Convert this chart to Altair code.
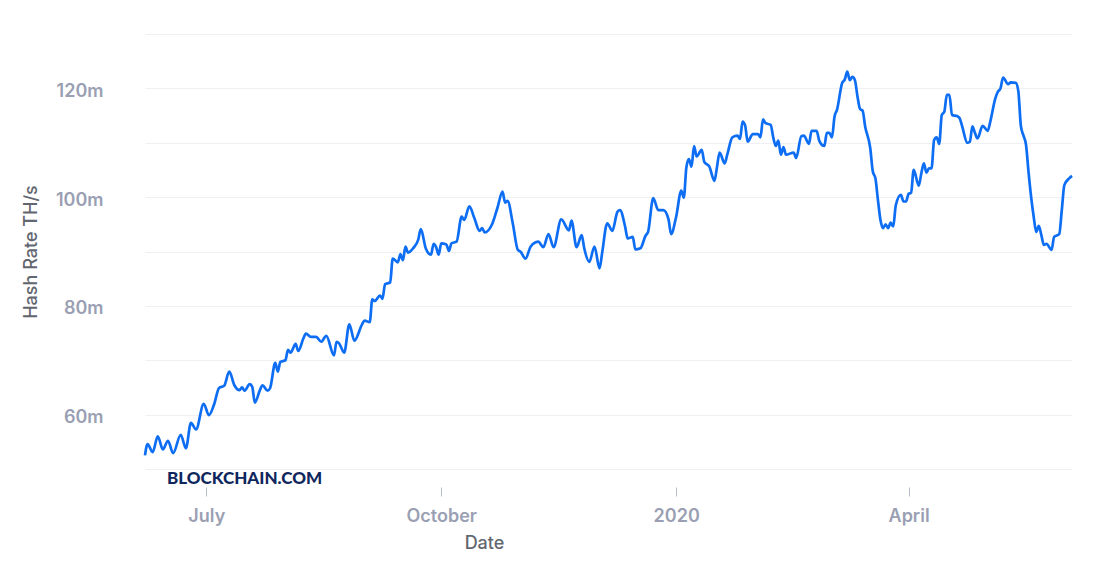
import altair as alt
import pandas as pd

# Hash rate: day offset from 2019-06-07 and value in millions of TH/s
days = [0, 1, 3, 5, 7, 9, 11, 14, 16, 18, 20, 23, 25, 27, 29, 31, 33, 35, 37, 38,
        39, 41, 42, 43, 45, 46, 48, 49, 51, 52, 53, 55, 56, 57, 59, 60, 62, 63, 65, 67,
        69, 71, 74, 75, 76, 78, 80, 82, 85, 86, 88, 89, 90, 92, 93, 94, 96, 97, 99, 100,
        101, 102, 103, 105, 107, 108, 110, 112, 113, 114, 115, 116, 118, 119, 120, 122, 124, 125, 127, 129,
        131, 132, 133, 136, 138, 140, 141, 142, 144, 146, 147, 149, 151, 153, 154, 156, 158, 160, 163, 166,
        167, 169, 171, 172, 174, 176, 178, 179, 181, 183, 185, 186, 188, 189, 191, 192, 194, 196, 197, 199,
        201, 203, 205, 206, 208, 210, 211, 212, 213, 214, 215, 216, 218, 219, 221, 223, 224, 225, 227, 228,
        230, 232, 233, 234, 235, 236, 238, 240, 241, 242, 243, 245, 246, 247, 248, 249, 250, 251, 254, 255,
        257, 258, 260, 261, 263, 264, 266, 267, 268, 269, 270, 271, 273, 274, 275, 276, 277, 278, 279, 280,
        281, 282, 284, 285, 286, 287, 288, 289, 290, 291, 292, 293, 294, 296, 297, 298, 299, 300, 301, 303,
        304, 305, 306, 307, 308, 309, 310, 311, 312, 313, 314, 315, 316, 318, 319, 320, 322, 323, 324, 325,
        326, 328, 330, 331, 333, 334, 335, 336, 338, 339, 341, 342, 343, 344, 345, 346, 347, 348, 349, 350,
        351, 352, 353, 355, 356, 358, 359, 360, 362, 363]
hash_rate = [52.5, 54.6, 53.1, 56.0, 53.6, 55.2, 52.9, 56.3, 53.8, 58.5, 57.3, 62.0, 59.9, 61.8, 64.9, 65.3, 67.9, 65.4, 64.5, 65.0,
             64.4, 65.6, 65.1, 62.2, 64.5, 65.4, 64.4, 64.9, 69.5, 67.9, 69.7, 70.0, 71.9, 71.4, 73.0, 71.7, 74.0, 74.9, 74.3, 74.3,
             73.4, 74.5, 70.9, 73.4, 73.1, 71.4, 76.6, 73.6, 76.6, 77.3, 77.0, 81.2, 80.9, 81.9, 81.3, 84.0, 84.3, 88.7, 88.0, 89.5,
             88.4, 90.9, 89.8, 90.6, 92.2, 94.1, 90.5, 89.4, 91.4, 90.8, 89.4, 91.5, 91.3, 90.1, 91.5, 91.8, 96.4, 95.8, 98.3, 96.1,
             93.8, 94.3, 93.5, 95.1, 98.0, 101.0, 99.0, 99.3, 95.2, 90.3, 90.0, 88.7, 90.9, 91.7, 91.8, 90.8, 93.2, 90.8, 95.9, 93.9,
             95.7, 90.8, 93.0, 90.6, 88.1, 90.9, 86.9, 89.7, 95.2, 93.8, 97.3, 97.6, 94.6, 92.4, 92.7, 90.4, 90.6, 92.9, 93.6, 99.8,
             97.6, 97.6, 95.9, 93.2, 96.4, 101.2, 99.9, 105.5, 107.0, 105.6, 109.4, 107.5, 108.7, 106.5, 105.6, 103.0, 105.6, 108.2, 106.2, 107.8,
             111.0, 111.3, 110.7, 113.9, 113.2, 110.2, 111.6, 111.6, 111.0, 114.3, 113.6, 113.3, 111.0, 109.4, 110.4, 107.8, 109.2, 107.8, 108.2, 107.2,
             111.2, 111.3, 109.8, 112.2, 112.2, 110.4, 109.4, 111.8, 111.8, 111.0, 114.8, 116.1, 121.0, 121.6, 123.1, 121.5, 122.1, 121.5, 118.5, 116.2,
             115.9, 113.0, 109.0, 104.7, 103.5, 99.5, 95.8, 94.3, 95.0, 94.3, 95.3, 94.6, 98.5, 100.4, 99.2, 99.2, 100.6, 100.8, 105.0, 102.1,
             104.4, 106.2, 104.5, 105.3, 105.3, 110.5, 111.0, 109.8, 115.1, 115.7, 118.8, 118.8, 115.1, 114.9, 114.5, 113.0, 110.0, 110.2, 113.0, 111.8,
             110.8, 113.1, 112.2, 113.9, 118.2, 119.4, 120.0, 122.0, 120.8, 121.1, 121.0, 119.4, 113.0, 111.3, 109.6, 104.5, 100.0, 96.4, 93.6, 94.7,
             93.0, 91.2, 91.4, 90.3, 92.7, 93.2, 97.6, 102.2, 103.5, 103.9]

y_grid = [50, 60, 70, 80, 90, 100, 110, 120, 130]
x_ticks = [alt.DateTime(year=2019, month=7, date=1),
           alt.DateTime(year=2019, month=10, date=1),
           alt.DateTime(year=2020, month=1, date=1),
           alt.DateTime(year=2020, month=4, date=1)]
watermark = "BLOCKCHAIN.COM"

df = pd.DataFrame({
    "Date": pd.Timestamp("2019-06-07") + pd.to_timedelta(days, unit="D"),
    "rate": hash_rate,
})

line = alt.Chart(df).mark_line(
    color="#0e6ef3", strokeWidth=2.7, interpolate="monotone"
).encode(
    x=alt.X("Date:T", title="Date",
            axis=alt.Axis(values=x_ticks, grid=False, domain=False,
                          tickColor="#b8bcc8", tickSize=9, offset=18,
                          labelPadding=11, titleX=339, titlePadding=9,
                          labelExpr="month(datum.value) == 0 ? timeFormat(datum.value, '%Y') : timeFormat(datum.value, '%B')")),
    y=alt.Y("rate:Q", title="Hash Rate TH/s",
            scale=alt.Scale(domain=[50, 130], nice=False, zero=False),
            axis=alt.Axis(values=y_grid, ticks=False, domain=False,
                          gridColor="#eef0f4", labelPadding=42, labelOffset=3,
                          titlePadding=15,
                          labelExpr="datum.value % 20 == 0 ? datum.value + 'm' : ''")),
)

mark = alt.Chart(pd.DataFrame({"t": [watermark]})).mark_text(
    align="left", baseline="middle", font="Lato", fontWeight=900,
    fontSize=17, color="#10275e"
).encode(x=alt.value(22), y=alt.value(445), text="t:N")

chart = (line + mark).properties(
    width=927, height=435,
    padding={"left": 14, "top": 26, "right": 5, "bottom": 5},
).configure_view(stroke=None).configure_axis(
    labelFont="Inter", labelFontSize=18, labelFontWeight=600, labelColor="#9a9fb3",
    titleFont="Inter", titleFontSize=18, titleFontWeight=500, titleColor="#62666f",
)

chart.save("out.html", embed_options={"renderer": "svg", "actions": False})
